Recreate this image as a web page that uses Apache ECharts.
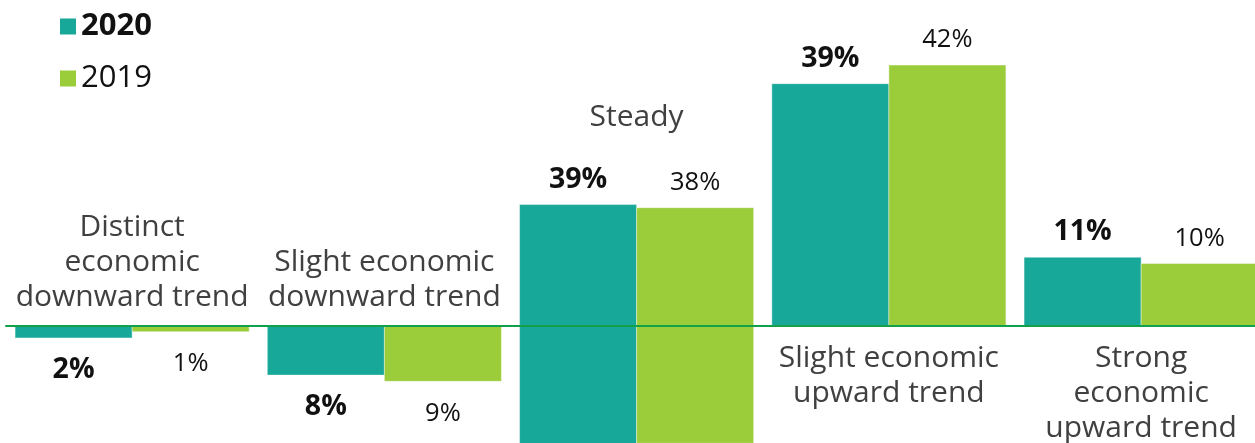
<!DOCTYPE html>
<html>
<head>
<meta charset="utf-8">
<script src="https://cdn.jsdelivr.net/npm/echarts@6/dist/echarts.min.js"></script>
<style>
  html, body { margin: 0; padding: 0; background: #fff; }
  #chart { width: 1255px; height: 443px; }
</style>
</head>
<body>
<div id="chart"></div>
<script>
// Expected economic development: share of answers per outlook, two survey years
const categories = [
  'Distinct\neconomic\ndownward trend',
  'Slight economic\ndownward trend',
  'Steady',
  'Slight economic\nupward trend',
  'Strong\neconomic\nupward trend'
];
const values2020 = [-2, -8, 39, 39, 11];
const values2019 = [-1, -9, 38, 42, 10];
const seriesNames = ['2020', '2019'];

const FONT = "'Open Sans', sans-serif";
const TEAL = '#17a899';
const LIME = '#9bcd3a';
const AXIS_GREEN = '#12a04a';
// the neutral answer is drawn straddling the zero line
const CENTERED = 'Steady';

function barRenderer(side, valueFont) {
  return function (params, api) {
    const i = api.value(0);
    const v = api.value(1);
    const centered = categories[i] === CENTERED;
    const from = centered ? v / 2 : 0;
    const to = centered ? -v / 2 : v;
    const a = api.coord([i, from]);
    const b = api.coord([i, to]);
    const band = api.size([1, 0])[0];
    const w = band * 0.464;
    const x0 = side < 0 ? a[0] - w : a[0];
    const top = Math.min(a[1], b[1]);
    const bottom = Math.max(a[1], b[1]);
    const up = centered || v >= 0;
    return {
      type: 'group',
      children: [
        {
          type: 'rect',
          shape: { x: x0, y: top, width: w, height: bottom - top },
          style: { fill: api.visual('color'), stroke: 'rgba(255,255,255,0.4)', lineWidth: 1 }
        },
        {
          type: 'text',
          style: Object.assign({
            text: Math.abs(v) + '%',
            x: x0 + w / 2,
            y: up ? top - 25 : bottom + 32,
            align: 'center',
            verticalAlign: 'middle',
            fill: '#111',
            fontFamily: FONT
          }, valueFont)
        }
      ]
    };
  };
}

function categoryRenderer(params, api) {
  const i = api.value(0);
  const hi = Math.max(api.value(1), api.value(2));
  const centered = categories[i] === CENTERED;
  const zero = api.coord([i, 0]);
  let y, va;
  if (centered) {
    y = api.coord([i, hi / 2])[1] - 70;
    va = 'bottom';
  } else if (hi <= 0) {
    y = zero[1] - 10.5;
    va = 'bottom';
  } else {
    y = zero[1] + 15;
    va = 'top';
  }
  return {
    type: 'text',
    style: {
      text: categories[i],
      x: zero[0],
      y: y,
      align: 'center',
      verticalAlign: va,
      lineHeight: 35,
      fontSize: 30,
      fontFamily: FONT,
      fill: '#404040'
    }
  };
}

const chart = echarts.init(document.getElementById('chart'), null, { renderer: 'canvas' });
chart.setOption({
  animation: false,
  backgroundColor: '#fff',
  legend: {
    data: seriesNames,
    orient: 'vertical',
    left: 60,
    top: 11,
    padding: 0,
    itemWidth: 16,
    itemHeight: 16,
    itemGap: 21,
    icon: 'rect',
    selectedMode: false,
    formatter: function (n) { return n === '2020' ? '{b|' + n + '}' : '{r|' + n + '}'; },
    textStyle: {
      rich: {
        b: { fontFamily: FONT, fontWeight: 'bold', fontSize: 31, lineHeight: 30, color: '#111' },
        r: { fontFamily: FONT, fontSize: 31, lineHeight: 30, color: '#111' }
      }
    }
  },
  grid: { left: 6, width: 1261.25, top: 15.5, height: 434, outerBoundsMode: 'none', containLabel: false },
  xAxis: {
    type: 'category',
    data: categories,
    z: 5,
    axisLine: { show: true, onZero: true, lineStyle: { color: AXIS_GREEN, width: 2 } },
    axisTick: { show: false },
    axisLabel: { show: false },
    splitLine: { show: false }
  },
  yAxis: {
    type: 'value',
    min: -20,
    max: 50,
    show: false,
    splitLine: { show: false }
  },
  series: [
    {
      name: seriesNames[0],
      type: 'custom',
      itemStyle: { color: TEAL },
      data: values2020.map(function (v, i) { return [i, v]; }),
      renderItem: barRenderer(-1, { fontSize: 28.5, fontWeight: 'bold' })
    },
    {
      name: seriesNames[1],
      type: 'custom',
      itemStyle: { color: LIME },
      data: values2019.map(function (v, i) { return [i, v]; }),
      renderItem: barRenderer(1, { fontSize: 25.5, fontWeight: 'normal' })
    },
    {
      name: 'categories',
      type: 'custom',
      data: categories.map(function (c, i) { return [i, values2020[i], values2019[i]]; }),
      renderItem: categoryRenderer
    }
  ]
});
</script>
</body>
</html>
